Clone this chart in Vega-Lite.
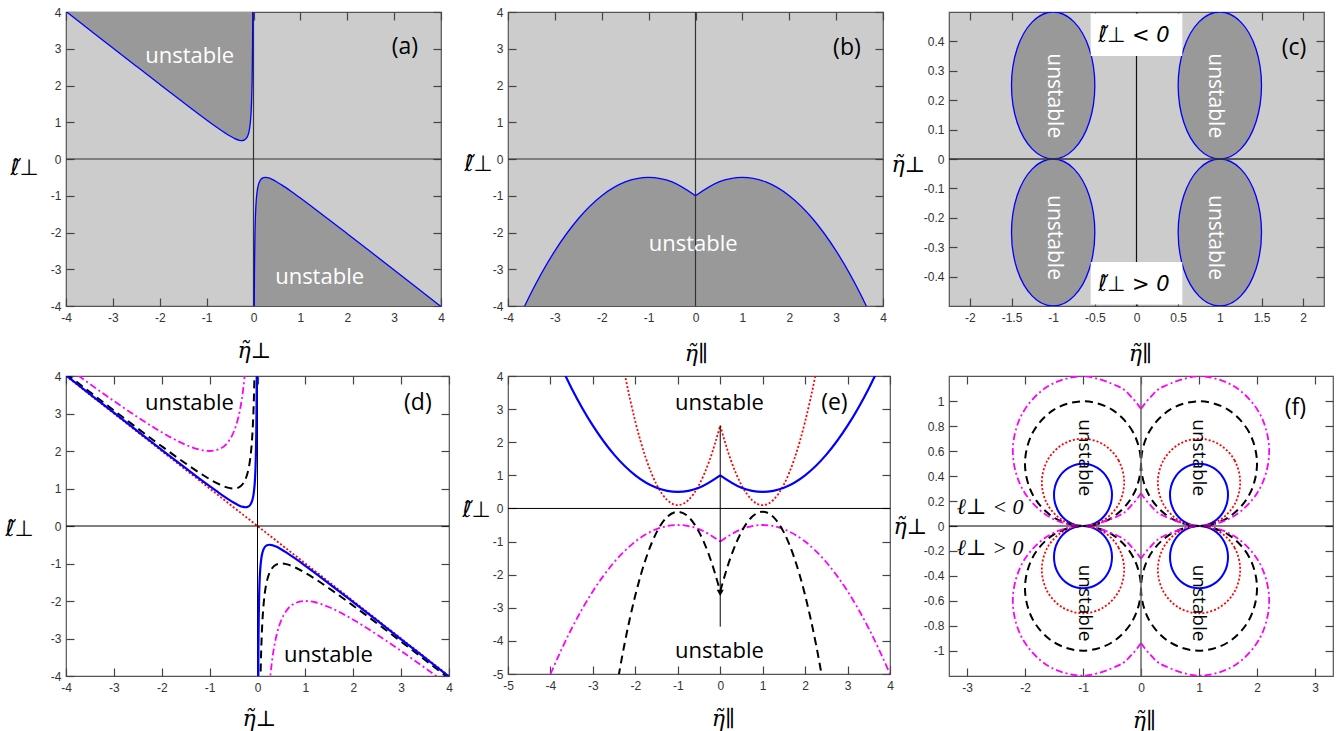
{
"$schema": "https://vega.github.io/schema/vega-lite/v6.json",
"padding": {"left": 4, "top": 5, "right": 5, "bottom": 5},
"background": "white",
"columns": 3,
"spacing": {"row": 70, "column": 59},
"bounds": "flush",
"align": "each",
"datasets": {
"one": [{}],
"A": [
{"s":"b","b":"ul","x":-4,"y":4.0156},{"s":"b","b":"ul","x":-3.5,"y":3.5179},{"s":"b","b":"ul","x":-3,"y":3.0208},{"s":"b","b":"ul","x":-2.5,"y":2.525},{"s":"b","b":"ul","x":-2,"y":2.0313},{"s":"b","b":"ul","x":-1.5,"y":1.5417},{"s":"b","b":"ul","x":-1.2,"y":1.2521},{"s":"b","b":"ul","x":-1,"y":1.0625},{"s":"b","b":"ul","x":-0.8,"y":0.8781},{"s":"b","b":"ul","x":-0.6,"y":0.7042},{"s":"b","b":"ul","x":-0.5,"y":0.625},{"s":"b","b":"ul","x":-0.4,"y":0.5563},{"s":"b","b":"ul","x":-0.3,"y":0.5083},{"s":"b","b":"ul","x":-0.25,"y":0.5},{"s":"b","b":"ul","x":-0.2,"y":0.5125},{"s":"b","b":"ul","x":-0.15,"y":0.5667},{"s":"b","b":"ul","x":-0.12,"y":0.6408},{"s":"b","b":"ul","x":-0.1,"y":0.725},{"s":"b","b":"ul","x":-0.08,"y":0.8613},{"s":"b","b":"ul","x":-0.06,"y":1.1017},{"s":"b","b":"ul","x":-0.05,"y":1.3},{"s":"b","b":"ul","x":-0.04,"y":1.6025},{"s":"b","b":"ul","x":-0.03,"y":2.1133},{"s":"b","b":"ul","x":-0.025,"y":2.525},{"s":"b","b":"ul","x":-0.02,"y":3.145},{"s":"b","b":"ul","x":-0.015,"y":4.1817},
{"s":"b","b":"lr","x":4,"y":-4.0156},{"s":"b","b":"lr","x":3.5,"y":-3.5179},{"s":"b","b":"lr","x":3,"y":-3.0208},{"s":"b","b":"lr","x":2.5,"y":-2.525},{"s":"b","b":"lr","x":2,"y":-2.0313},{"s":"b","b":"lr","x":1.5,"y":-1.5417},{"s":"b","b":"lr","x":1.2,"y":-1.2521},{"s":"b","b":"lr","x":1,"y":-1.0625},{"s":"b","b":"lr","x":0.8,"y":-0.8781},{"s":"b","b":"lr","x":0.6,"y":-0.7042},{"s":"b","b":"lr","x":0.5,"y":-0.625},{"s":"b","b":"lr","x":0.4,"y":-0.5563},{"s":"b","b":"lr","x":0.3,"y":-0.5083},{"s":"b","b":"lr","x":0.25,"y":-0.5},{"s":"b","b":"lr","x":0.2,"y":-0.5125},{"s":"b","b":"lr","x":0.15,"y":-0.5667},{"s":"b","b":"lr","x":0.12,"y":-0.6408},{"s":"b","b":"lr","x":0.1,"y":-0.725},{"s":"b","b":"lr","x":0.08,"y":-0.8613},{"s":"b","b":"lr","x":0.06,"y":-1.1017},{"s":"b","b":"lr","x":0.05,"y":-1.3},{"s":"b","b":"lr","x":0.04,"y":-1.6025},{"s":"b","b":"lr","x":0.03,"y":-2.1133},{"s":"b","b":"lr","x":0.025,"y":-2.525},{"s":"b","b":"lr","x":0.02,"y":-3.145},{"s":"b","b":"lr","x":0.015,"y":-4.1817},
{"s":"k","b":"ul","x":-4,"y":4.0625},{"s":"k","b":"ul","x":-3.5,"y":3.5714},{"s":"k","b":"ul","x":-3,"y":3.0833},{"s":"k","b":"ul","x":-2.5,"y":2.6},{"s":"k","b":"ul","x":-2,"y":2.125},{"s":"k","b":"ul","x":-1.5,"y":1.6667},{"s":"k","b":"ul","x":-1.2,"y":1.4083},{"s":"k","b":"ul","x":-1,"y":1.25},{"s":"k","b":"ul","x":-0.8,"y":1.1125},{"s":"k","b":"ul","x":-0.6,"y":1.0167},{"s":"k","b":"ul","x":-0.5,"y":1},{"s":"k","b":"ul","x":-0.4,"y":1.025},{"s":"k","b":"ul","x":-0.3,"y":1.1333},{"s":"k","b":"ul","x":-0.25,"y":1.25},{"s":"k","b":"ul","x":-0.2,"y":1.45},{"s":"k","b":"ul","x":-0.15,"y":1.8167},{"s":"k","b":"ul","x":-0.12,"y":2.2033},{"s":"k","b":"ul","x":-0.1,"y":2.6},{"s":"k","b":"ul","x":-0.08,"y":3.205},{"s":"k","b":"ul","x":-0.07,"y":3.6414},{"s":"k","b":"ul","x":-0.06,"y":4.2267},
{"s":"k","b":"lr","x":4,"y":-4.0625},{"s":"k","b":"lr","x":3.5,"y":-3.5714},{"s":"k","b":"lr","x":3,"y":-3.0833},{"s":"k","b":"lr","x":2.5,"y":-2.6},{"s":"k","b":"lr","x":2,"y":-2.125},{"s":"k","b":"lr","x":1.5,"y":-1.6667},{"s":"k","b":"lr","x":1.2,"y":-1.4083},{"s":"k","b":"lr","x":1,"y":-1.25},{"s":"k","b":"lr","x":0.8,"y":-1.1125},{"s":"k","b":"lr","x":0.6,"y":-1.0167},{"s":"k","b":"lr","x":0.5,"y":-1},{"s":"k","b":"lr","x":0.4,"y":-1.025},{"s":"k","b":"lr","x":0.3,"y":-1.1333},{"s":"k","b":"lr","x":0.25,"y":-1.25},{"s":"k","b":"lr","x":0.2,"y":-1.45},{"s":"k","b":"lr","x":0.15,"y":-1.8167},{"s":"k","b":"lr","x":0.12,"y":-2.2033},{"s":"k","b":"lr","x":0.1,"y":-2.6},{"s":"k","b":"lr","x":0.08,"y":-3.205},{"s":"k","b":"lr","x":0.07,"y":-3.6414},{"s":"k","b":"lr","x":0.06,"y":-4.2267},
{"s":"m","b":"ul","x":-4,"y":4.25},{"s":"m","b":"ul","x":-3.75,"y":4.0167},{"s":"m","b":"ul","x":-3.5,"y":3.7857},{"s":"m","b":"ul","x":-3,"y":3.3333},{"s":"m","b":"ul","x":-2.5,"y":2.9},{"s":"m","b":"ul","x":-2,"y":2.5},{"s":"m","b":"ul","x":-1.5,"y":2.1667},{"s":"m","b":"ul","x":-1.2,"y":2.0333},{"s":"m","b":"ul","x":-1,"y":2},{"s":"m","b":"ul","x":-0.8,"y":2.05},{"s":"m","b":"ul","x":-0.6,"y":2.2667},{"s":"m","b":"ul","x":-0.5,"y":2.5},{"s":"m","b":"ul","x":-0.4,"y":2.9},{"s":"m","b":"ul","x":-0.35,"y":3.2071},{"s":"m","b":"ul","x":-0.3,"y":3.6333},{"s":"m","b":"ul","x":-0.25,"y":4.25},
{"s":"m","b":"lr","x":4,"y":-4.25},{"s":"m","b":"lr","x":3.75,"y":-4.0167},{"s":"m","b":"lr","x":3.5,"y":-3.7857},{"s":"m","b":"lr","x":3,"y":-3.3333},{"s":"m","b":"lr","x":2.5,"y":-2.9},{"s":"m","b":"lr","x":2,"y":-2.5},{"s":"m","b":"lr","x":1.5,"y":-2.1667},{"s":"m","b":"lr","x":1.2,"y":-2.0333},{"s":"m","b":"lr","x":1,"y":-2},{"s":"m","b":"lr","x":0.8,"y":-2.05},{"s":"m","b":"lr","x":0.6,"y":-2.2667},{"s":"m","b":"lr","x":0.5,"y":-2.5},{"s":"m","b":"lr","x":0.4,"y":-2.9},{"s":"m","b":"lr","x":0.35,"y":-3.2071},{"s":"m","b":"lr","x":0.3,"y":-3.6333},{"s":"m","b":"lr","x":0.25,"y":-4.25},
{"s":"r","b":"d","x":-4,"y":4},{"s":"r","b":"d","x":4,"y":-4}
],
"B": [
{"s":"fp","h":"L","x":-4,"y":5},{"s":"fp","h":"L","x":-3.5,"y":3.625},{"s":"fp","h":"L","x":-3,"y":2.5},{"s":"fp","h":"L","x":-2.5,"y":1.625},{"s":"fp","h":"L","x":-2,"y":1},{"s":"fp","h":"L","x":-1.5,"y":0.625},{"s":"fp","h":"L","x":-1,"y":0.5},{"s":"fp","h":"L","x":-0.5,"y":0.625},{"s":"fp","h":"L","x":0,"y":1},
{"s":"fp","h":"R","x":0,"y":1},{"s":"fp","h":"R","x":0.5,"y":0.625},{"s":"fp","h":"R","x":1,"y":0.5},{"s":"fp","h":"R","x":1.5,"y":0.625},{"s":"fp","h":"R","x":2,"y":1},{"s":"fp","h":"R","x":2.5,"y":1.625},{"s":"fp","h":"R","x":3,"y":2.5},{"s":"fp","h":"R","x":3.5,"y":3.625},{"s":"fp","h":"R","x":4,"y":5},
{"s":"fn","h":"L","x":-4,"y":-5},{"s":"fn","h":"L","x":-3.5,"y":-3.625},{"s":"fn","h":"L","x":-3,"y":-2.5},{"s":"fn","h":"L","x":-2.5,"y":-1.625},{"s":"fn","h":"L","x":-2,"y":-1},{"s":"fn","h":"L","x":-1.5,"y":-0.625},{"s":"fn","h":"L","x":-1,"y":-0.5},{"s":"fn","h":"L","x":-0.5,"y":-0.625},{"s":"fn","h":"L","x":0,"y":-1},
{"s":"fn","h":"R","x":0,"y":-1},{"s":"fn","h":"R","x":0.5,"y":-0.625},{"s":"fn","h":"R","x":1,"y":-0.5},{"s":"fn","h":"R","x":1.5,"y":-0.625},{"s":"fn","h":"R","x":2,"y":-1},{"s":"fn","h":"R","x":2.5,"y":-1.625},{"s":"fn","h":"R","x":3,"y":-2.5},{"s":"fn","h":"R","x":3.5,"y":-3.625},{"s":"fn","h":"R","x":4,"y":-5},
{"s":"gp","h":"L","x":-2.5,"y":5.8432},{"s":"gp","h":"L","x":-2.25,"y":4.0644},{"s":"gp","h":"L","x":-2,"y":2.622},{"s":"gp","h":"L","x":-1.75,"y":1.51},{"s":"gp","h":"L","x":-1.5,"y":0.7229},{"s":"gp","h":"L","x":-1.25,"y":0.2548},{"s":"gp","h":"L","x":-1,"y":0.1},{"s":"gp","h":"L","x":-0.75,"y":0.2528},{"s":"gp","h":"L","x":-0.5,"y":0.7077},{"s":"gp","h":"L","x":-0.25,"y":1.4586},{"s":"gp","h":"L","x":0,"y":2.5},
{"s":"gp","h":"R","x":0,"y":2.5},{"s":"gp","h":"R","x":0.25,"y":1.4586},{"s":"gp","h":"R","x":0.5,"y":0.7077},{"s":"gp","h":"R","x":0.75,"y":0.2528},{"s":"gp","h":"R","x":1,"y":0.1},{"s":"gp","h":"R","x":1.25,"y":0.2548},{"s":"gp","h":"R","x":1.5,"y":0.7229},{"s":"gp","h":"R","x":1.75,"y":1.51},{"s":"gp","h":"R","x":2,"y":2.622},{"s":"gp","h":"R","x":2.25,"y":4.0644},{"s":"gp","h":"R","x":2.5,"y":5.8432},
{"s":"gn","h":"L","x":-2.5,"y":-5.8432},{"s":"gn","h":"L","x":-2.25,"y":-4.0644},{"s":"gn","h":"L","x":-2,"y":-2.622},{"s":"gn","h":"L","x":-1.75,"y":-1.51},{"s":"gn","h":"L","x":-1.5,"y":-0.7229},{"s":"gn","h":"L","x":-1.25,"y":-0.2548},{"s":"gn","h":"L","x":-1,"y":-0.1},{"s":"gn","h":"L","x":-0.75,"y":-0.2528},{"s":"gn","h":"L","x":-0.5,"y":-0.7077},{"s":"gn","h":"L","x":-0.25,"y":-1.4586},{"s":"gn","h":"L","x":0,"y":-2.5},
{"s":"gn","h":"R","x":0,"y":-2.5},{"s":"gn","h":"R","x":0.25,"y":-1.4586},{"s":"gn","h":"R","x":0.5,"y":-0.7077},{"s":"gn","h":"R","x":0.75,"y":-0.2528},{"s":"gn","h":"R","x":1,"y":-0.1},{"s":"gn","h":"R","x":1.25,"y":-0.2548},{"s":"gn","h":"R","x":1.5,"y":-0.7229},{"s":"gn","h":"R","x":1.75,"y":-1.51},{"s":"gn","h":"R","x":2,"y":-2.622},{"s":"gn","h":"R","x":2.25,"y":-4.0644},{"s":"gn","h":"R","x":2.5,"y":-5.8432}
],
"E": [
{"s":"b","g":"UL","x":-0.5,"y":0.25},{"s":"b","g":"UL","x":-0.567,"y":0.375},{"s":"b","g":"UL","x":-0.75,"y":0.4665},{"s":"b","g":"UL","x":-1,"y":0.5},{"s":"b","g":"UL","x":-1.25,"y":0.4665},{"s":"b","g":"UL","x":-1.433,"y":0.375},{"s":"b","g":"UL","x":-1.5,"y":0.25},{"s":"b","g":"UL","x":-1.433,"y":0.125},{"s":"b","g":"UL","x":-1.25,"y":0.0335},{"s":"b","g":"UL","x":-1,"y":0},{"s":"b","g":"UL","x":-0.75,"y":0.0335},{"s":"b","g":"UL","x":-0.567,"y":0.125},
{"s":"b","g":"UR","x":1.5,"y":0.25},{"s":"b","g":"UR","x":1.433,"y":0.375},{"s":"b","g":"UR","x":1.25,"y":0.4665},{"s":"b","g":"UR","x":1,"y":0.5},{"s":"b","g":"UR","x":0.75,"y":0.4665},{"s":"b","g":"UR","x":0.567,"y":0.375},{"s":"b","g":"UR","x":0.5,"y":0.25},{"s":"b","g":"UR","x":0.567,"y":0.125},{"s":"b","g":"UR","x":0.75,"y":0.0335},{"s":"b","g":"UR","x":1,"y":0},{"s":"b","g":"UR","x":1.25,"y":0.0335},{"s":"b","g":"UR","x":1.433,"y":0.125},
{"s":"b","g":"LL","x":-0.5,"y":-0.25},{"s":"b","g":"LL","x":-0.567,"y":-0.125},{"s":"b","g":"LL","x":-0.75,"y":-0.0335},{"s":"b","g":"LL","x":-1,"y":0},{"s":"b","g":"LL","x":-1.25,"y":-0.0335},{"s":"b","g":"LL","x":-1.433,"y":-0.125},{"s":"b","g":"LL","x":-1.5,"y":-0.25},{"s":"b","g":"LL","x":-1.433,"y":-0.375},{"s":"b","g":"LL","x":-1.25,"y":-0.4665},{"s":"b","g":"LL","x":-1,"y":-0.5},{"s":"b","g":"LL","x":-0.75,"y":-0.4665},{"s":"b","g":"LL","x":-0.567,"y":-0.375},
{"s":"b","g":"LR","x":1.5,"y":-0.25},{"s":"b","g":"LR","x":1.433,"y":-0.125},{"s":"b","g":"LR","x":1.25,"y":-0.0335},{"s":"b","g":"LR","x":1,"y":0},{"s":"b","g":"LR","x":0.75,"y":-0.0335},{"s":"b","g":"LR","x":0.567,"y":-0.125},{"s":"b","g":"LR","x":0.5,"y":-0.25},{"s":"b","g":"LR","x":0.567,"y":-0.375},{"s":"b","g":"LR","x":0.75,"y":-0.4665},{"s":"b","g":"LR","x":1,"y":-0.5},{"s":"b","g":"LR","x":1.25,"y":-0.4665},{"s":"b","g":"LR","x":1.433,"y":-0.375},
{"s":"r","g":"UL","x":-0.29,"y":0.35},{"s":"r","g":"UL","x":-0.385,"y":0.525},{"s":"r","g":"UL","x":-0.645,"y":0.653},{"s":"r","g":"UL","x":-1,"y":0.7},{"s":"r","g":"UL","x":-1.355,"y":0.653},{"s":"r","g":"UL","x":-1.615,"y":0.525},{"s":"r","g":"UL","x":-1.71,"y":0.35},{"s":"r","g":"UL","x":-1.615,"y":0.175},{"s":"r","g":"UL","x":-1.355,"y":0.047},{"s":"r","g":"UL","x":-1,"y":0},{"s":"r","g":"UL","x":-0.645,"y":0.047},{"s":"r","g":"UL","x":-0.385,"y":0.175},
{"s":"r","g":"UR","x":1.71,"y":0.35},{"s":"r","g":"UR","x":1.615,"y":0.525},{"s":"r","g":"UR","x":1.355,"y":0.653},{"s":"r","g":"UR","x":1,"y":0.7},{"s":"r","g":"UR","x":0.645,"y":0.653},{"s":"r","g":"UR","x":0.385,"y":0.525},{"s":"r","g":"UR","x":0.29,"y":0.35},{"s":"r","g":"UR","x":0.385,"y":0.175},{"s":"r","g":"UR","x":0.645,"y":0.047},{"s":"r","g":"UR","x":1,"y":0},{"s":"r","g":"UR","x":1.355,"y":0.047},{"s":"r","g":"UR","x":1.615,"y":0.175},
{"s":"r","g":"LL","x":-0.29,"y":-0.35},{"s":"r","g":"LL","x":-0.385,"y":-0.175},{"s":"r","g":"LL","x":-0.645,"y":-0.047},{"s":"r","g":"LL","x":-1,"y":0},{"s":"r","g":"LL","x":-1.355,"y":-0.047},{"s":"r","g":"LL","x":-1.615,"y":-0.175},{"s":"r","g":"LL","x":-1.71,"y":-0.35},{"s":"r","g":"LL","x":-1.615,"y":-0.525},{"s":"r","g":"LL","x":-1.355,"y":-0.653},{"s":"r","g":"LL","x":-1,"y":-0.7},{"s":"r","g":"LL","x":-0.645,"y":-0.653},{"s":"r","g":"LL","x":-0.385,"y":-0.525},
{"s":"r","g":"LR","x":1.71,"y":-0.35},{"s":"r","g":"LR","x":1.615,"y":-0.175},{"s":"r","g":"LR","x":1.355,"y":-0.047},{"s":"r","g":"LR","x":1,"y":0},{"s":"r","g":"LR","x":0.645,"y":-0.047},{"s":"r","g":"LR","x":0.385,"y":-0.175},{"s":"r","g":"LR","x":0.29,"y":-0.35},{"s":"r","g":"LR","x":0.385,"y":-0.525},{"s":"r","g":"LR","x":0.645,"y":-0.653},{"s":"r","g":"LR","x":1,"y":-0.7},{"s":"r","g":"LR","x":1.355,"y":-0.653},{"s":"r","g":"LR","x":1.615,"y":-0.525},
{"s":"k","g":"UL","x":0,"y":0.5},{"s":"k","g":"UL","x":-0.134,"y":0.75},{"s":"k","g":"UL","x":-0.5,"y":0.933},{"s":"k","g":"UL","x":-1,"y":1},{"s":"k","g":"UL","x":-1.5,"y":0.933},{"s":"k","g":"UL","x":-1.866,"y":0.75},{"s":"k","g":"UL","x":-2,"y":0.5},{"s":"k","g":"UL","x":-1.866,"y":0.25},{"s":"k","g":"UL","x":-1.5,"y":0.067},{"s":"k","g":"UL","x":-1,"y":0},{"s":"k","g":"UL","x":-0.5,"y":0.067},{"s":"k","g":"UL","x":-0.134,"y":0.25},
{"s":"k","g":"UR","x":2,"y":0.5},{"s":"k","g":"UR","x":1.866,"y":0.75},{"s":"k","g":"UR","x":1.5,"y":0.933},{"s":"k","g":"UR","x":1,"y":1},{"s":"k","g":"UR","x":0.5,"y":0.933},{"s":"k","g":"UR","x":0.134,"y":0.75},{"s":"k","g":"UR","x":0,"y":0.5},{"s":"k","g":"UR","x":0.134,"y":0.25},{"s":"k","g":"UR","x":0.5,"y":0.067},{"s":"k","g":"UR","x":1,"y":0},{"s":"k","g":"UR","x":1.5,"y":0.067},{"s":"k","g":"UR","x":1.866,"y":0.25},
{"s":"k","g":"LL","x":0,"y":-0.5},{"s":"k","g":"LL","x":-0.134,"y":-0.25},{"s":"k","g":"LL","x":-0.5,"y":-0.067},{"s":"k","g":"LL","x":-1,"y":0},{"s":"k","g":"LL","x":-1.5,"y":-0.067},{"s":"k","g":"LL","x":-1.866,"y":-0.25},{"s":"k","g":"LL","x":-2,"y":-0.5},{"s":"k","g":"LL","x":-1.866,"y":-0.75},{"s":"k","g":"LL","x":-1.5,"y":-0.933},{"s":"k","g":"LL","x":-1,"y":-1},{"s":"k","g":"LL","x":-0.5,"y":-0.933},{"s":"k","g":"LL","x":-0.134,"y":-0.75},
{"s":"k","g":"LR","x":2,"y":-0.5},{"s":"k","g":"LR","x":1.866,"y":-0.25},{"s":"k","g":"LR","x":1.5,"y":-0.067},{"s":"k","g":"LR","x":1,"y":0},{"s":"k","g":"LR","x":0.5,"y":-0.067},{"s":"k","g":"LR","x":0.134,"y":-0.25},{"s":"k","g":"LR","x":0,"y":-0.5},{"s":"k","g":"LR","x":0.134,"y":-0.75},{"s":"k","g":"LR","x":0.5,"y":-0.933},{"s":"k","g":"LR","x":1,"y":-1},{"s":"k","g":"LR","x":1.5,"y":-0.933},{"s":"k","g":"LR","x":1.866,"y":-0.75},
{"s":"m","g":"UL","x":0,"y":0.938},{"s":"m","g":"UL","x":-0.144,"y":1.024},{"s":"m","g":"UL","x":-0.395,"y":1.12},{"s":"m","g":"UL","x":-1,"y":1.2},{"s":"m","g":"UL","x":-1.605,"y":1.12},{"s":"m","g":"UL","x":-2.048,"y":0.9},{"s":"m","g":"UL","x":-2.21,"y":0.6},{"s":"m","g":"UL","x":-2.048,"y":0.3},{"s":"m","g":"UL","x":-1.605,"y":0.08},{"s":"m","g":"UL","x":-1,"y":0},{"s":"m","g":"UL","x":-0.395,"y":0.08},{"s":"m","g":"UL","x":-0.144,"y":0.176},{"s":"m","g":"UL","x":0,"y":0.262},
{"s":"m","g":"UR","x":0,"y":0.938},{"s":"m","g":"UR","x":0.144,"y":1.024},{"s":"m","g":"UR","x":0.395,"y":1.12},{"s":"m","g":"UR","x":1,"y":1.2},{"s":"m","g":"UR","x":1.605,"y":1.12},{"s":"m","g":"UR","x":2.048,"y":0.9},{"s":"m","g":"UR","x":2.21,"y":0.6},{"s":"m","g":"UR","x":2.048,"y":0.3},{"s":"m","g":"UR","x":1.605,"y":0.08},{"s":"m","g":"UR","x":1,"y":0},{"s":"m","g":"UR","x":0.395,"y":0.08},{"s":"m","g":"UR","x":0.144,"y":0.176},{"s":"m","g":"UR","x":0,"y":0.262},
{"s":"m","g":"LL","x":0,"y":-0.938},{"s":"m","g":"LL","x":-0.144,"y":-1.024},{"s":"m","g":"LL","x":-0.395,"y":-1.12},{"s":"m","g":"LL","x":-1,"y":-1.2},{"s":"m","g":"LL","x":-1.605,"y":-1.12},{"s":"m","g":"LL","x":-2.048,"y":-0.9},{"s":"m","g":"LL","x":-2.21,"y":-0.6},{"s":"m","g":"LL","x":-2.048,"y":-0.3},{"s":"m","g":"LL","x":-1.605,"y":-0.08},{"s":"m","g":"LL","x":-1,"y":0},{"s":"m","g":"LL","x":-0.395,"y":-0.08},{"s":"m","g":"LL","x":-0.144,"y":-0.176},{"s":"m","g":"LL","x":0,"y":-0.262},
{"s":"m","g":"LR","x":0,"y":-0.938},{"s":"m","g":"LR","x":0.144,"y":-1.024},{"s":"m","g":"LR","x":0.395,"y":-1.12},{"s":"m","g":"LR","x":1,"y":-1.2},{"s":"m","g":"LR","x":1.605,"y":-1.12},{"s":"m","g":"LR","x":2.048,"y":-0.9},{"s":"m","g":"LR","x":2.21,"y":-0.6},{"s":"m","g":"LR","x":2.048,"y":-0.3},{"s":"m","g":"LR","x":1.605,"y":-0.08},{"s":"m","g":"LR","x":1,"y":0},{"s":"m","g":"LR","x":0.395,"y":-0.08},{"s":"m","g":"LR","x":0.144,"y":-0.176},{"s":"m","g":"LR","x":0,"y":-0.262}
],
"R": [{"x":-0.55,"x2":0.55,"y":0.35,"y2":0.495},{"x":-0.55,"x2":0.55,"y":-0.495,"y2":-0.35}],
"T": [
{"p":"a","k":"u","t":"unstable","x":-1.36,"y":2.8},{"p":"a","k":"u","t":"unstable","x":1.41,"y":-3.2},{"p":"a","k":"l","t":"(a)","x":3.23,"y":3.05},
{"p":"b","k":"u","t":"unstable","x":-0.05,"y":-2.3},{"p":"b","k":"l","t":"(b)","x":3.23,"y":3.02},
{"p":"c","k":"u","t":"unstable","x":-0.99,"y":0.215},{"p":"c","k":"u","t":"unstable","x":0.945,"y":0.215},{"p":"c","k":"u","t":"unstable","x":-0.99,"y":-0.267},{"p":"c","k":"u","t":"unstable","x":0.945,"y":-0.267},{"p":"c","k":"l","t":"(c)","x":1.89,"y":0.378},
{"p":"c","k":"s","t":"\u2113\u0303\u22a5 < 0","x":-0.03,"y":0.42},{"p":"c","k":"s","t":"\u2113\u0303\u22a5 > 0","x":-0.03,"y":-0.43},
{"p":"d","k":"u","t":"unstable","x":-1.42,"y":3.27},{"p":"d","k":"u","t":"unstable","x":1.48,"y":-3.45},{"p":"d","k":"l","t":"(d)","x":3.35,"y":3.27},
{"p":"e","k":"u","t":"unstable","x":-0.02,"y":3.18},{"p":"e","k":"u","t":"unstable","x":-0.02,"y":-4.3},{"p":"e","k":"l","t":"(e)","x":2.69,"y":3.18},
{"p":"f","k":"u","t":"unstable","x":-0.96,"y":0.548},{"p":"f","k":"u","t":"unstable","x":1.0,"y":0.548},{"p":"f","k":"u","t":"unstable","x":-0.96,"y":-0.618},{"p":"f","k":"u","t":"unstable","x":1.0,"y":-0.618},{"p":"f","k":"l","t":"(f)","x":2.66,"y":0.95},
{"p":"f","k":"s","t":"\u2113\u22a5 < 0","x":-2.6,"y":0.155},{"p":"f","k":"s","t":"\u2113\u22a5 > 0","x":-2.6,"y":-0.174}
]
},
"concat": [
{
"width": 375, "height": 294,
"view": {"fill": "#cccccc"},
"resolve": {"axis": {"x": "independent", "y": "independent"}},
"layer": [
{"data": {"name": "A"}, "transform": [{"filter": "datum.s=='b' && datum.b=='ul'"}],
 "mark": {"type": "area", "color": "#999999", "clip": true, "interpolate": "monotone"},
 "encoding": {
  "x": {"field": "x", "type": "quantitative", "scale": {"domain": [-4, 4], "nice": false, "zero": false}, "axis": {"values": [-4,-3,-2,-1,0,1,2,3,4], "format": "~g", "title": "\u03b7\u0303\u22a5", "titleX": 188, "titleY": 52}},
  "y": {"field": "y", "type": "quantitative", "scale": {"domain": [-4, 4], "nice": false, "zero": false}, "axis": {"values": [-4,-3,-2,-1,0,1,2,3,4], "format": "~g", "title": "\u2113\u0303\u22a5", "titleFont": "DejaVu Sans", "titleX": -50, "titleY": 155}},
  "y2": {"datum": 4}}},
{"data": {"name": "A"}, "transform": [{"filter": "datum.s=='b' && datum.b=='lr'"}],
 "mark": {"type": "area", "color": "#999999", "clip": true, "interpolate": "monotone"},
 "encoding": {
  "x": {"field": "x", "type": "quantitative", "axis": null},
  "y": {"field": "y", "type": "quantitative", "axis": null},
  "y2": {"datum": -4}}},
{"data": {"name": "one"}, "mark": {"type": "rule", "color": "#333333", "strokeWidth": 1.2},
 "encoding": {"x": {"datum": 0, "type": "quantitative", "axis": {"orient": "top", "values": [-4,-3,-2,-1,0,1,2,3,4], "labels": false, "title": null}}}},
{"data": {"name": "one"}, "mark": {"type": "rule", "color": "#333333", "strokeWidth": 1.2},
 "encoding": {"y": {"datum": 0, "type": "quantitative", "axis": {"orient": "right", "values": [-4,-3,-2,-1,0,1,2,3,4], "labels": false, "title": null}}}},
{"data": {"name": "A"}, "transform": [{"filter": "datum.s=='b'"}],
 "mark": {"type": "line", "color": "#0000ff", "strokeWidth": 1.3, "clip": true, "interpolate": "monotone"},
 "encoding": {"x": {"field": "x", "type": "quantitative", "axis": null}, "y": {"field": "y", "type": "quantitative", "axis": null}, "detail": {"field": "b"}}},
{"data": {"name": "T"}, "transform": [{"filter": "datum.p=='a' && datum.k=='u'"}],
 "mark": {"type": "text", "color": "#ffffff", "font": "Open Sans", "fontSize": 22, "align": "center", "baseline": "middle"},
 "encoding": {"x": {"field": "x", "type": "quantitative", "axis": null}, "y": {"field": "y", "type": "quantitative", "axis": null}, "text": {"field": "t"}}},
{"data": {"name": "T"}, "transform": [{"filter": "datum.p=='a' && datum.k=='l'"}],
 "mark": {"type": "text", "color": "#000000", "font": "Open Sans", "fontSize": 23, "align": "center", "baseline": "middle"},
 "encoding": {"x": {"field": "x", "type": "quantitative", "axis": null}, "y": {"field": "y", "type": "quantitative", "axis": null}, "text": {"field": "t"}}}
]
},
{
"width": 375, "height": 294,
"view": {"fill": "#cccccc"},
"resolve": {"axis": {"x": "independent", "y": "independent"}},
"layer": [
{"data": {"name": "B"}, "transform": [{"filter": "datum.s=='fn'"}],
 "mark": {"type": "area", "color": "#999999", "clip": true, "interpolate": "monotone"},
 "encoding": {
  "x": {"field": "x", "type": "quantitative", "scale": {"domain": [-4, 4], "nice": false, "zero": false}, "axis": {"values": [-4,-3,-2,-1,0,1,2,3,4], "format": "~g", "title": "\u03b7\u0303\u2225", "titleX": 188, "titleY": 55}},
  "y": {"field": "y", "type": "quantitative", "scale": {"domain": [-4, 4], "nice": false, "zero": false}, "axis": {"values": [-4,-3,-2,-1,0,1,2,3,4], "format": "~g", "title": "\u2113\u0303\u22a5", "titleFont": "DejaVu Sans", "titleX": -38, "titleY": 151}},
  "y2": {"datum": -4}, "detail": {"field": "h"}}},
{"data": {"name": "one"}, "mark": {"type": "rule", "color": "#333333", "strokeWidth": 1.2},
 "encoding": {"x": {"datum": 0, "type": "quantitative", "axis": {"orient": "top", "values": [-4,-3,-2,-1,0,1,2,3,4], "labels": false, "title": null}}}},
{"data": {"name": "one"}, "mark": {"type": "rule", "color": "#333333", "strokeWidth": 1.2},
 "encoding": {"y": {"datum": 0, "type": "quantitative", "axis": {"orient": "right", "values": [-4,-3,-2,-1,0,1,2,3,4], "labels": false, "title": null}}}},
{"data": {"name": "B"}, "transform": [{"filter": "datum.s=='fn'"}],
 "mark": {"type": "line", "color": "#0000ff", "strokeWidth": 1.3, "clip": true, "interpolate": "monotone"},
 "encoding": {"x": {"field": "x", "type": "quantitative", "axis": null}, "y": {"field": "y", "type": "quantitative", "axis": null}, "detail": {"field": "h"}}},
{"data": {"name": "T"}, "transform": [{"filter": "datum.p=='b' && datum.k=='u'"}],
 "mark": {"type": "text", "color": "#ffffff", "font": "Open Sans", "fontSize": 22, "align": "center", "baseline": "middle"},
 "encoding": {"x": {"field": "x", "type": "quantitative", "axis": null}, "y": {"field": "y", "type": "quantitative", "axis": null}, "text": {"field": "t"}}},
{"data": {"name": "T"}, "transform": [{"filter": "datum.p=='b' && datum.k=='l'"}],
 "mark": {"type": "text", "color": "#000000", "font": "Open Sans", "fontSize": 23, "align": "center", "baseline": "middle"},
 "encoding": {"x": {"field": "x", "type": "quantitative", "axis": null}, "y": {"field": "y", "type": "quantitative", "axis": null}, "text": {"field": "t"}}}
]
},
{
"width": 375, "height": 294,
"view": {"fill": "#cccccc"},
"resolve": {"axis": {"x": "independent", "y": "independent"}},
"layer": [
{"data": {"name": "E"}, "transform": [{"filter": "datum.s=='b'"}],
 "mark": {"type": "line", "fill": "#999999", "stroke": "#0000ff", "strokeWidth": 1.3, "clip": true, "interpolate": "cardinal-closed"},
 "encoding": {
  "x": {"field": "x", "type": "quantitative", "scale": {"domain": [-2.25, 2.25], "nice": false, "zero": false}, "axis": {"values": [-2,-1.5,-1,-0.5,0,0.5,1,1.5,2], "format": "~g", "title": "\u03b7\u0303\u2225", "titleX": 191, "titleY": 55}},
  "y": {"field": "y", "type": "quantitative", "scale": {"domain": [-0.5, 0.5], "nice": false, "zero": false}, "axis": {"values": [-0.4,-0.3,-0.2,-0.1,0,0.1,0.2,0.3,0.4], "format": "~g", "title": "\u03b7\u0303\u22a5", "titleX": -49, "titleY": 152}},
  "detail": {"field": "g"}, "order": {"value": null}}},
{"data": {"name": "one"}, "mark": {"type": "rule", "color": "#111111", "strokeWidth": 1.2},
 "encoding": {"x": {"datum": 0, "type": "quantitative", "axis": {"orient": "top", "values": [-2,-1.5,-1,-0.5,0,0.5,1,1.5,2], "labels": false, "title": null}}}},
{"data": {"name": "one"}, "mark": {"type": "rule", "color": "#333333", "strokeWidth": 1.3},
 "encoding": {"y": {"datum": 0, "type": "quantitative", "axis": {"orient": "right", "values": [-0.4,-0.3,-0.2,-0.1,0,0.1,0.2,0.3,0.4], "labels": false, "title": null}}}},
{"data": {"name": "R"}, "mark": {"type": "rect", "color": "#ffffff"},
 "encoding": {"x": {"field": "x", "type": "quantitative", "axis": null}, "x2": {"field": "x2"}, "y": {"field": "y", "type": "quantitative", "axis": null}, "y2": {"field": "y2"}}},
{"data": {"name": "T"}, "transform": [{"filter": "datum.p=='c' && datum.k=='u'"}],
 "mark": {"type": "text", "color": "#ffffff", "font": "Open Sans", "fontSize": 21, "align": "center", "baseline": "middle", "angle": 90},
 "encoding": {"x": {"field": "x", "type": "quantitative", "axis": null}, "y": {"field": "y", "type": "quantitative", "axis": null}, "text": {"field": "t"}}},
{"data": {"name": "T"}, "transform": [{"filter": "datum.p=='c' && datum.k=='l'"}],
 "mark": {"type": "text", "color": "#000000", "font": "Open Sans", "fontSize": 23, "align": "center", "baseline": "middle"},
 "encoding": {"x": {"field": "x", "type": "quantitative", "axis": null}, "y": {"field": "y", "type": "quantitative", "axis": null}, "text": {"field": "t"}}},
{"data": {"name": "T"}, "transform": [{"filter": "datum.p=='c' && datum.k=='s'"}],
 "mark": {"type": "text", "color": "#000000", "font": "DejaVu Sans", "fontStyle": "italic", "fontSize": 21, "align": "center", "baseline": "middle"},
 "encoding": {"x": {"field": "x", "type": "quantitative", "axis": null}, "y": {"field": "y", "type": "quantitative", "axis": null}, "text": {"field": "t"}}}
]
},
{
"width": 383, "height": 300,
"resolve": {"axis": {"x": "independent", "y": "independent"}},
"layer": [
{"data": {"name": "A"}, "transform": [{"filter": "datum.s=='r'"}],
 "mark": {"type": "line", "color": "#ff0000", "strokeWidth": 1.8, "strokeDash": [2, 2], "clip": true},
 "encoding": {
  "x": {"field": "x", "type": "quantitative", "scale": {"domain": [-4, 4], "nice": false, "zero": false}, "axis": {"values": [-4,-3,-2,-1,0,1,2,3,4], "format": "~g", "title": "\u03b7\u0303\u22a5", "titleX": 193, "titleY": 50}},
  "y": {"field": "y", "type": "quantitative", "scale": {"domain": [-4, 4], "nice": false, "zero": false}, "axis": {"values": [-4,-3,-2,-1,0,1,2,3,4], "format": "~g", "title": "\u2113\u0303\u22a5", "titleFont": "DejaVu Sans", "titleX": -55, "titleY": 152}}}},
{"data": {"name": "one"}, "mark": {"type": "rule", "color": "#000000", "strokeWidth": 1},
 "encoding": {"x": {"datum": 0, "type": "quantitative", "axis": {"orient": "top", "values": [-4,-3,-2,-1,0,1,2,3,4], "labels": false, "title": null}}}},
{"data": {"name": "one"}, "mark": {"type": "rule", "color": "#000000", "strokeWidth": 1},
 "encoding": {"y": {"datum": 0, "type": "quantitative", "axis": {"orient": "right", "values": [-4,-3,-2,-1,0,1,2,3,4], "labels": false, "title": null}}}},
{"data": {"name": "A"}, "transform": [{"filter": "datum.s=='m'"}],
 "mark": {"type": "line", "color": "#ff00ff", "strokeWidth": 1.8, "strokeDash": [7, 3, 2, 3], "clip": true, "interpolate": "monotone"},
 "encoding": {"x": {"field": "x", "type": "quantitative", "axis": null}, "y": {"field": "y", "type": "quantitative", "axis": null}, "detail": {"field": "b"}}},
{"data": {"name": "A"}, "transform": [{"filter": "datum.s=='k'"}],
 "mark": {"type": "line", "color": "#000000", "strokeWidth": 2, "strokeDash": [8, 5], "clip": true, "interpolate": "monotone"},
 "encoding": {"x": {"field": "x", "type": "quantitative", "axis": null}, "y": {"field": "y", "type": "quantitative", "axis": null}, "detail": {"field": "b"}}},
{"data": {"name": "A"}, "transform": [{"filter": "datum.s=='b'"}],
 "mark": {"type": "line", "color": "#0000ff", "strokeWidth": 2.2, "clip": true, "interpolate": "monotone"},
 "encoding": {"x": {"field": "x", "type": "quantitative", "axis": null}, "y": {"field": "y", "type": "quantitative", "axis": null}, "detail": {"field": "b"}}},
{"data": {"name": "T"}, "transform": [{"filter": "datum.p=='d' && datum.k=='u'"}],
 "mark": {"type": "text", "color": "#000000", "font": "Open Sans", "fontSize": 22, "align": "center", "baseline": "middle"},
 "encoding": {"x": {"field": "x", "type": "quantitative", "axis": null}, "y": {"field": "y", "type": "quantitative", "axis": null}, "text": {"field": "t"}}},
{"data": {"name": "T"}, "transform": [{"filter": "datum.p=='d' && datum.k=='l'"}],
 "mark": {"type": "text", "color": "#000000", "font": "Open Sans", "fontSize": 23, "align": "center", "baseline": "middle"},
 "encoding": {"x": {"field": "x", "type": "quantitative", "axis": null}, "y": {"field": "y", "type": "quantitative", "axis": null}, "text": {"field": "t"}}}
]
},
{
"width": 382, "height": 298,
"resolve": {"axis": {"x": "independent", "y": "independent"}},
"layer": [
{"data": {"name": "B"}, "transform": [{"filter": "datum.s=='fn'"}],
 "mark": {"type": "line", "color": "#ff00ff", "strokeWidth": 1.8, "strokeDash": [7, 3, 2, 3], "clip": true, "interpolate": "monotone"},
 "encoding": {
  "x": {"field": "x", "type": "quantitative", "scale": {"domain": [-5, 4], "nice": false, "zero": false}, "axis": {"values": [-5,-4,-3,-2,-1,0,1,2,3,4], "format": "~g", "title": "\u03b7\u0303\u2225", "titleX": 215, "titleY": 52}},
  "y": {"field": "y", "type": "quantitative", "scale": {"domain": [-5, 4], "nice": false, "zero": false}, "axis": {"values": [-5,-4,-3,-2,-1,0,1,2,3,4], "format": "~g", "title": "\u2113\u0303\u22a5", "titleFont": "DejaVu Sans", "titleX": -40, "titleY": 133}},
  "detail": {"field": "h"}}},
{"data": {"name": "B"}, "transform": [{"filter": "datum.s=='gn'"}],
 "mark": {"type": "line", "color": "#000000", "strokeWidth": 2, "strokeDash": [8, 5], "clip": true, "interpolate": "monotone"},
 "encoding": {"x": {"field": "x", "type": "quantitative", "axis": null}, "y": {"field": "y", "type": "quantitative", "axis": null}, "detail": {"field": "h"}}},
{"data": {"name": "B"}, "transform": [{"filter": "datum.s=='gp'"}],
 "mark": {"type": "line", "color": "#ff0000", "strokeWidth": 1.8, "strokeDash": [2, 2], "clip": true, "interpolate": "monotone"},
 "encoding": {"x": {"field": "x", "type": "quantitative", "axis": null}, "y": {"field": "y", "type": "quantitative", "axis": null}, "detail": {"field": "h"}}},
{"data": {"name": "B"}, "transform": [{"filter": "datum.s=='fp'"}],
 "mark": {"type": "line", "color": "#0000ff", "strokeWidth": 2.2, "clip": true, "interpolate": "monotone"},
 "encoding": {"x": {"field": "x", "type": "quantitative", "axis": null}, "y": {"field": "y", "type": "quantitative", "axis": null}, "detail": {"field": "h"}}},
{"data": {"name": "one"}, "mark": {"type": "rule", "color": "#000000", "strokeWidth": 1},
 "encoding": {"y": {"datum": 0, "type": "quantitative", "axis": {"orient": "right", "values": [-5,-4,-3,-2,-1,0,1,2,3,4], "labels": false, "title": null}}}},
{"data": {"name": "one"}, "mark": {"type": "rule", "color": "#000000", "strokeWidth": 1},
 "encoding": {"x": {"datum": 0, "type": "quantitative", "axis": {"orient": "top", "values": [-5,-4,-3,-2,-1,0,1,2,3,4], "labels": false, "title": null}}, "y": {"datum": 2.5, "type": "quantitative", "axis": null}, "y2": {"datum": -3.57}}},
{"data": {"name": "one"}, "mark": {"type": "point", "shape": "triangle-down", "filled": true, "color": "#000000", "size": 50, "opacity": 1},
 "encoding": {"x": {"datum": 0, "type": "quantitative", "axis": null}, "y": {"datum": -2.55, "type": "quantitative", "axis": null}}},
{"data": {"name": "T"}, "transform": [{"filter": "datum.p=='e' && datum.k=='u'"}],
 "mark": {"type": "text", "color": "#000000", "font": "Open Sans", "fontSize": 22, "align": "center", "baseline": "middle"},
 "encoding": {"x": {"field": "x", "type": "quantitative", "axis": null}, "y": {"field": "y", "type": "quantitative", "axis": null}, "text": {"field": "t"}}},
{"data": {"name": "T"}, "transform": [{"filter": "datum.p=='e' && datum.k=='l'"}],
 "mark": {"type": "text", "color": "#000000", "font": "Open Sans", "fontSize": 23, "align": "center", "baseline": "middle"},
 "encoding": {"x": {"field": "x", "type": "quantitative", "axis": null}, "y": {"field": "y", "type": "quantitative", "axis": null}, "text": {"field": "t"}}}
]
},
{
"width": 384, "height": 300,
"resolve": {"axis": {"x": "independent", "y": "independent"}},
"layer": [
{"data": {"name": "E"}, "transform": [{"filter": "datum.s=='b'"}],
 "mark": {"type": "line", "color": "#0000ff", "strokeWidth": 2, "clip": true, "interpolate": "cardinal-closed"},
 "encoding": {
  "x": {"field": "x", "type": "quantitative", "scale": {"domain": [-3.31, 3.31], "nice": false, "zero": false}, "axis": {"values": [-3,-2,-1,0,1,2,3], "format": "~g", "title": "\u03b7\u0303\u2225", "titleX": 195, "titleY": 52}},
  "y": {"field": "y", "type": "quantitative", "scale": {"domain": [-1.203, 1.203], "nice": false, "zero": false}, "axis": {"values": [-1,-0.8,-0.6,-0.4,-0.2,0,0.2,0.4,0.6,0.8,1], "format": "~g", "title": "\u03b7\u0303\u22a5", "titleX": -47, "titleY": 150}},
  "detail": {"field": "g"}, "order": {"value": null}}},
{"data": {"name": "E"}, "transform": [{"filter": "datum.s=='r'"}],
 "mark": {"type": "line", "color": "#ff0000", "strokeWidth": 1.8, "strokeDash": [2, 2], "clip": true, "interpolate": "cardinal-closed"},
 "encoding": {"x": {"field": "x", "type": "quantitative", "axis": null}, "y": {"field": "y", "type": "quantitative", "axis": null}, "detail": {"field": "g"}, "order": {"value": null}}},
{"data": {"name": "E"}, "transform": [{"filter": "datum.s=='k'"}],
 "mark": {"type": "line", "color": "#000000", "strokeWidth": 2, "strokeDash": [8, 5], "clip": true, "interpolate": "cardinal-closed"},
 "encoding": {"x": {"field": "x", "type": "quantitative", "axis": null}, "y": {"field": "y", "type": "quantitative", "axis": null}, "detail": {"field": "g"}, "order": {"value": null}}},
{"data": {"name": "E"}, "transform": [{"filter": "datum.s=='m'"}],
 "mark": {"type": "line", "color": "#ff00ff", "strokeWidth": 1.8, "strokeDash": [7, 3, 2, 3], "clip": true, "interpolate": "cardinal"},
 "encoding": {"x": {"field": "x", "type": "quantitative", "axis": null}, "y": {"field": "y", "type": "quantitative", "axis": null}, "detail": {"field": "g"}, "order": {"value": null}}},
{"data": {"name": "one"}, "mark": {"type": "rule", "color": "#666666", "strokeWidth": 1.5},
 "encoding": {"x": {"datum": 0, "type": "quantitative", "axis": {"orient": "top", "values": [-3,-2,-1,0,1,2,3], "labels": false, "title": null}}}},
{"data": {"name": "one"}, "mark": {"type": "rule", "color": "#000000", "strokeWidth": 1.2},
 "encoding": {"y": {"datum": 0, "type": "quantitative", "axis": {"orient": "right", "values": [-1,-0.8,-0.6,-0.4,-0.2,0,0.2,0.4,0.6,0.8,1], "labels": false, "title": null}}}},
{"data": {"name": "T"}, "transform": [{"filter": "datum.p=='f' && datum.k=='u'"}],
 "mark": {"type": "text", "color": "#000000", "font": "Open Sans", "fontSize": 19, "align": "center", "baseline": "middle", "angle": 90},
 "encoding": {"x": {"field": "x", "type": "quantitative", "axis": null}, "y": {"field": "y", "type": "quantitative", "axis": null}, "text": {"field": "t"}}},
{"data": {"name": "T"}, "transform": [{"filter": "datum.p=='f' && datum.k=='l'"}],
 "mark": {"type": "text", "color": "#000000", "font": "Open Sans", "fontSize": 23, "align": "center", "baseline": "middle"},
 "encoding": {"x": {"field": "x", "type": "quantitative", "axis": null}, "y": {"field": "y", "type": "quantitative", "axis": null}, "text": {"field": "t"}}},
{"data": {"name": "T"}, "transform": [{"filter": "datum.p=='f' && datum.k=='s'"}],
 "mark": {"type": "text", "color": "#000000", "font": "Liberation Serif, DejaVu Serif", "fontStyle": "italic", "fontSize": 22, "align": "center", "baseline": "middle"},
 "encoding": {"x": {"field": "x", "type": "quantitative", "axis": null}, "y": {"field": "y", "type": "quantitative", "axis": null}, "text": {"field": "t"}}}
]
}
],
"config": {
 "locale": {"number": {"decimal": ".", "thousands": ",", "grouping": [3], "currency": ["$", ""], "minus": "-"}},
 "view": {"stroke": "#555555", "strokeWidth": 1.2},
 "axis": {"domain": false, "grid": false, "ticks": true, "tickSize": 8, "offset": -8, "tickColor": "#444444", "tickWidth": 1.2, "labelFont": "Liberation Sans", "labelFontSize": 12, "labelColor": "#333333", "labelFlush": false, "labelOverlap": false, "labelBound": false, "titleFont": "DejaVu Serif", "titleFontStyle": "italic", "titleFontWeight": "normal", "titleFontSize": 22, "titleColor": "#000000", "titleAlign": "center", "titleBaseline": "middle", "zindex": 1},
 "axisX": {"labelPadding": 6},
 "axisY": {"labelPadding": 5, "titleAngle": 0}
}
}
